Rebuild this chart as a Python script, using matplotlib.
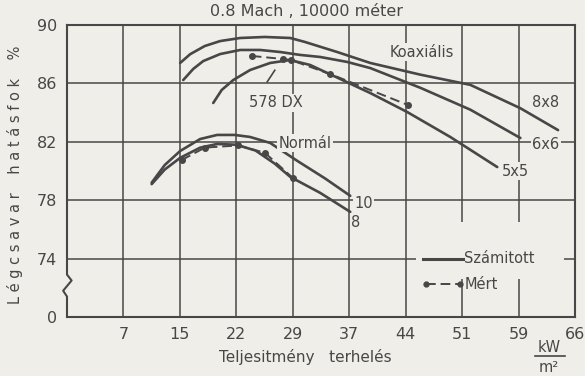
import matplotlib
matplotlib.use("Agg")
import matplotlib.pyplot as plt
from matplotlib.lines import Line2D
from matplotlib.patches import Rectangle

# ---------------- data (x: kW/m^2, y: efficiency %) ----------------
x_tick_labels = ["7", "15", "22", "29", "37", "44", "51", "59", "66"]
y_tick_labels = ["0", "74", "78", "82", "86", "90"]

# Koaxiális calculated curves
x_8x8 = [14.7, 16.0, 17.9, 19.9, 22.5, 25.7, 29.0, 30.9, 35.1, 39.4, 45.9, 52.4, 58.9, 63.8]
y_8x8 = [87.4, 88.0, 88.56, 88.9, 89.11, 89.18, 89.11, 88.84, 88.15, 87.4, 86.6, 85.9, 84.3, 82.8]

x_6x6 = [15.1, 16.4, 17.7, 19.9, 22.5, 25.1, 27.7, 30.3, 32.9, 36.4, 39.4, 45.9, 52.4, 58.9]
y_6x6 = [86.23, 86.99, 87.53, 88.01, 88.29, 88.29, 88.15, 87.95, 87.81, 87.47, 87.05, 85.7, 84.2, 82.26]

x_5x5 = [19.0, 20.1, 21.6, 23.8, 26.4, 29.0, 31.6, 35.5, 39.4, 44.2, 49.8, 55.9]
y_5x5 = [84.66, 85.55, 86.23, 86.92, 87.40, 87.60, 87.26, 86.30, 85.34, 84.04, 82.33, 80.27]

# 578 DX measured
x_dx_meas = [24.0, 28.1, 29.1, 34.2, 44.3]
y_dx_meas = [87.88, 87.67, 87.60, 86.64, 84.52]

# Normál calculated curves
x_n10 = [11.0, 12.7, 14.7, 17.3, 19.5, 21.8, 23.8, 26.4, 29.9, 33.5, 36.8]
y_n10 = [79.2, 80.41, 81.37, 82.19, 82.47, 82.47, 82.33, 81.92, 80.7, 79.5, 78.3]

x_n8 = [11.0, 12.7, 14.7, 17.3, 19.5, 22.0, 24.5, 27.0, 29.0, 32.9, 36.8]
y_n8 = [79.1, 80.1, 80.9, 81.6, 81.85, 81.8, 81.4, 80.5, 79.6, 78.5, 77.2]

# Normál measured
x_n_meas = [14.9, 17.9, 22.2, 25.7, 29.4]
y_n_meas = [80.75, 81.6, 81.75, 81.25, 79.5]

# ---------------- style ----------------
INK = "#474747"
BG = "#efeee9"
FONT = "DejaVu Sans"
plt.rcParams["font.family"] = FONT

fig = plt.figure(figsize=(5.85, 3.76), dpi=100, facecolor=BG)
ax = fig.add_axes([67/585, 1-317/376, (575-67)/585, (317-25)/376])
ax.set_facecolor(BG)
ax.set_xlim(0, 66)
ax.set_ylim(70, 90)

xt = [66/9*k for k in range(1, 10)]
ax.set_xticks(xt)
ax.set_xticklabels(x_tick_labels)
ax.set_yticks([70, 74, 78, 82, 86, 90])
ax.set_yticklabels(y_tick_labels)
ax.tick_params(length=0, labelsize=11.5, colors=INK, pad=7)
ax.grid(True, color=INK, lw=1.1, zorder=1)
ax.set_axisbelow(True)

for s in ["top", "right", "bottom"]:
    ax.spines[s].set_color(INK)
    ax.spines[s].set_linewidth(1.5)
ax.spines["left"].set_visible(False)

# left spine with break mark
brk_x = [0, 0, -0.5, 0.6, 0, 0]
brk_y = [70, 71.4, 71.8, 72.5, 72.9, 90]
ax.add_line(Line2D(brk_x, brk_y, color=INK, lw=1.5, clip_on=False, zorder=5))

# legend area masking grid
ax.add_patch(Rectangle((45.3, 72.6), 19.3, 3.9, facecolor=BG, edgecolor="none", zorder=1.5))

LW = 1.9
for xs, ys in [(x_8x8, y_8x8), (x_6x6, y_6x6), (x_5x5, y_5x5), (x_n10, y_n10), (x_n8, y_n8)]:
    ax.plot(xs, ys, color=INK, lw=LW, solid_capstyle="round", zorder=3)

for xs, ys in [(x_dx_meas, y_dx_meas), (x_n_meas, y_n_meas)]:
    ax.plot(xs, ys, color=INK, lw=1.4, ls=(0, (5, 2.5)), marker="o", ms=4, zorder=4)

tb = dict(facecolor=BG, edgecolor="none", pad=1.0)
tk = dict(color=INK, fontsize=10.5, zorder=6)
ax.text(46.1, 88.15, "Koaxiális", ha="center", va="center", bbox=tb, **tk)
ax.text(27.2, 84.66, "578 DX", ha="center", va="center", bbox=tb, **tk)
ax.text(30.9, 81.9, "Normál", ha="center", va="center", bbox=tb, **tk)
ax.text(62.2, 84.7, "8x8", ha="center", va="center", bbox=tb, **tk)
ax.text(62.2, 81.8, "6x6", ha="center", va="center", bbox=tb, **tk)
ax.text(58.2, 80.0, "5x5", ha="center", va="center", bbox=tb, **tk)
ax.text(37.3, 77.8, "10", ha="left", va="center", bbox=tb, **tk)
ax.text(36.9, 76.5, "8", ha="left", va="center", bbox=tb, **tk)

# 578 DX leader
ax.add_line(Line2D([26.0, 27.0], [86.1, 86.9], color=INK, lw=1.2, zorder=4))

# manual legend
ax.plot([46.3, 51.5], [74.0, 74.0], color=INK, lw=2.2, zorder=4)
ax.text(51.6, 74.0, "Számitott", ha="left", va="center", **tk)
ax.plot([46.6, 51.1], [72.25, 72.25], color=INK, lw=1.4, ls=(0, (5, 2.5)),
        marker="o", ms=3.5, markevery=[0, 1], zorder=4)
ax.text(51.6, 72.2, "Mért", ha="left", va="center", **tk)

# titles and labels
fig.text(307/585, 1-11/376, "0.8 Mach , 10000 méter", ha="center", va="center",
         color=INK, fontsize=11.5)
fig.text(305/585, 1-357/376, "Teljesitmény   terhelés", ha="center", va="center",
         color=INK, fontsize=11)
fig.text(15/585, 1-175/376, "L é g c s a v a r    h a t á s f o k    %", ha="center",
         va="center", rotation=90, color=INK, fontsize=10.5)
fig.text(549/585, 1-347/376, "kW", ha="center", va="center", color=INK, fontsize=10.5)
fig.add_artist(Line2D([535/585, 565/585], [1-356/376, 1-356/376], color=INK, lw=1.2,
                      transform=fig.transFigure))
fig.text(549/585, 1-368/376, "m²", ha="center", va="center", color=INK, fontsize=10.5)

fig.savefig("out.png", dpi=100, facecolor=BG)
